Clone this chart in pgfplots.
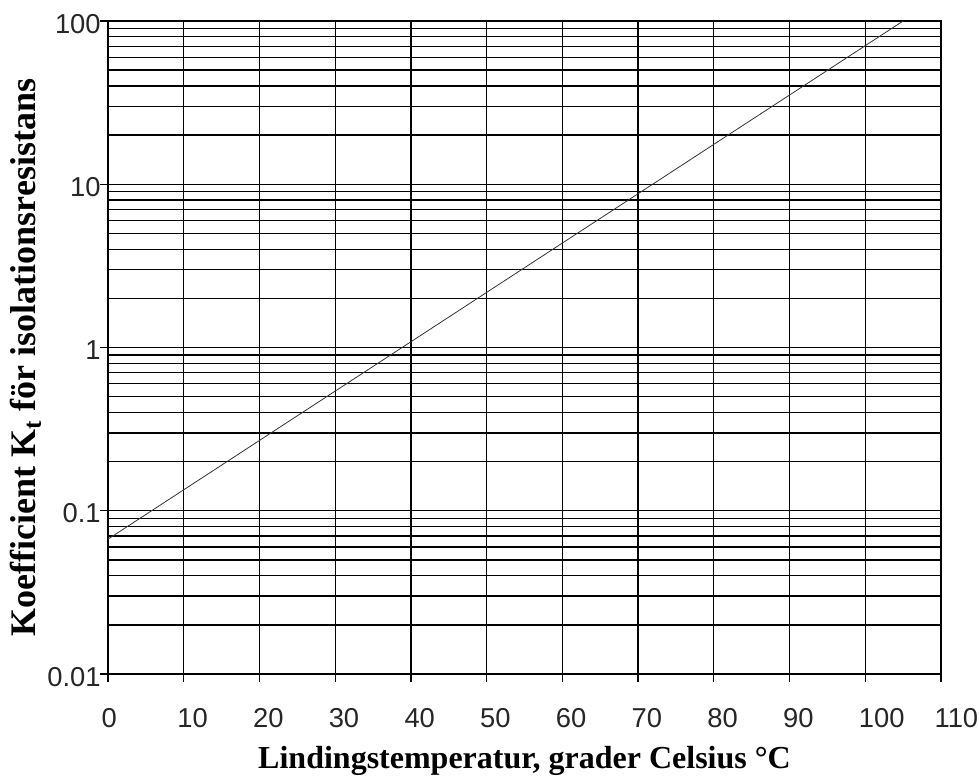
\documentclass[border=0pt]{standalone}
\usepackage{fontspec}
\setmainfont{Liberation Serif}
\newfontfamily\arial{Liberation Sans}
\usepackage{pgfplots}
\pgfplotsset{compat=1.18}
\begin{document}
\begin{tikzpicture}
\begin{axis}[
  name=ax,
  scale only axis,
  width=624.75pt, height=489.75pt,
  ymode=log,
  xmin=0, xmax=110, ymin=0.01, ymax=100,
  xtick={0,10,...,110},
  xticklabels={0,10,20,30,40,50,60,70,80,90,100,110},
  ytick={0.01,0.1,1,10,100},
  yticklabels={0.01,0.1,1,10,100},
  minor ytick={0.02,0.03,0.04,0.05,0.06,0.07,0.08,0.09,
               0.2,0.3,0.4,0.5,0.6,0.7,0.8,0.9,
               2,3,4,5,6,7,8,9,
               20,30,40,50,60,70,80,90},
  minor x tick num=0,
  grid=both,
  major grid style={black, line width=1pt},
  minor grid style={black, line width=1pt},
  axis line style={black, line width=1pt},
  tick align=outside,
  tick pos=left,
  major tick length=6pt,
  minor tick length=0pt,
  tick style={black, line width=1pt},
  tick label style={font=\arial\fontsize{20.5}{22}\selectfont, text=black!85},
  xticklabel style={anchor=north west, inner xsep=0pt, xshift=-5pt, yshift=-16pt},
  yticklabel style={xshift=4pt, yshift=-2pt},
  xlabel={\textbf{Lindingstemperatur, grader Celsius °C}},
  ylabel={\textbf{Koefficient K\textsubscript{t} för isolationsresistans}},
  xlabel style={font=\fontsize{24}{28}\selectfont, at={([yshift=-70.5pt]rel axis cs:0.5,0)}, anchor=base},
  ylabel style={font=\fontsize{27}{31}\selectfont, at={([shift={(-54pt,-7.5pt)}]rel axis cs:0,0.5)}, anchor=base},
]
\addplot[black!80, line width=0.6pt] coordinates {(0,0.067) (105,100)};
\end{axis}
\pgfresetboundingbox
\path ([shift={(-81pt,-76.5pt)}]ax.south west) rectangle ([shift={(28.5pt,15.75pt)}]ax.north east);
\end{tikzpicture}
\end{document}
